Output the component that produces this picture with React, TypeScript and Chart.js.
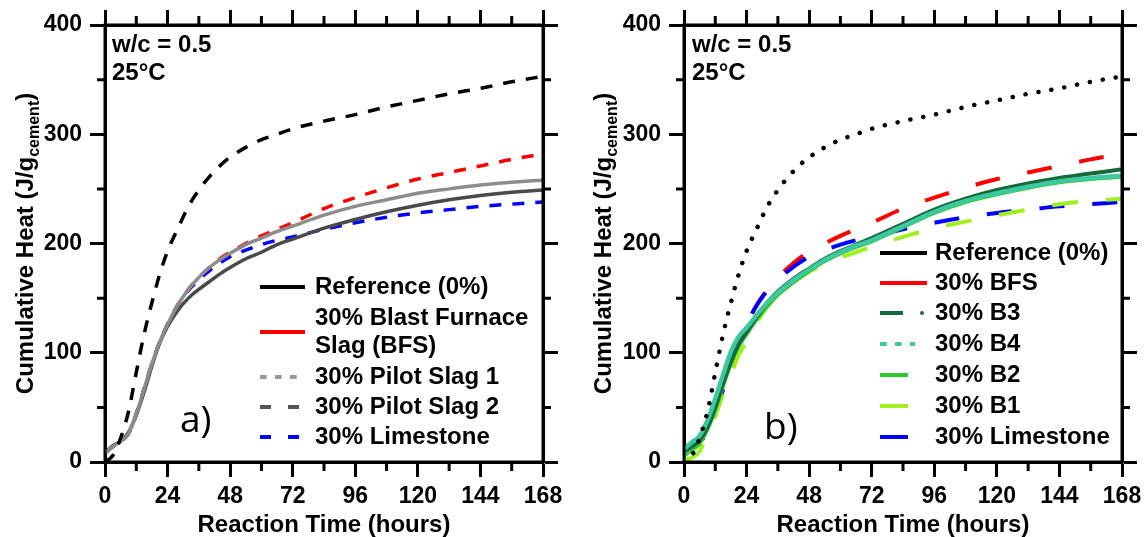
import React, { useEffect, useRef } from 'react';
import { Chart, registerables } from 'chart.js';
Chart.register(...registerables);

const FONT = '"Liberation Sans", Arial, Helvetica, sans-serif';

// Reaction time (hours)
const hours = [0, 3, 6, 9, 12, 15, 18, 21, 24, 28, 32, 36, 40, 44, 48, 54, 60, 66, 72, 84, 96, 108, 120, 132, 144, 156, 168];

// Cumulative heat (J/g cement)
const reference = [0, 6, 22, 46, 82, 117, 146, 172, 193, 214, 234, 249, 261, 271, 279, 288, 295, 300, 305, 312, 318, 325, 331, 337, 342, 348, 353];
const bfs = [8, 14, 19, 26, 44, 67, 90, 110, 126, 144, 158, 169, 178, 186, 192, 200, 207, 213, 219, 232, 242, 251, 259, 265, 271, 277, 282];
const pilotSlag1 = [8, 14, 19, 26, 44, 67, 90, 110, 126, 144, 158, 169, 178, 185, 191, 199, 205, 211, 216, 226, 234, 240, 246, 250, 253.5, 256, 258];
const pilotSlag2 = [8, 15, 19, 27, 43, 64, 88, 109, 124, 139, 150, 158, 165, 172, 178, 186, 192, 199, 204, 214, 222, 229, 235, 240, 244, 247, 249];
const limestone = [8, 14, 19, 26, 44, 67, 90, 110, 126, 144, 157, 167, 175, 182, 188, 194, 199, 203, 206, 213, 219, 224, 228, 231, 234, 236, 238];
const b3 = [10, 14, 20, 32, 50, 72, 92, 108, 119, 133, 146, 156, 164, 171, 177, 186, 193, 199, 205, 218, 231, 241, 249, 255, 260, 264, 268];
const b4 = [12, 18, 24, 38, 58, 80, 101, 115, 123, 135, 146, 155, 163, 170, 176, 185, 192, 198, 203, 216, 229, 239, 246, 252, 257, 260, 262];
const b2 = [6, 11, 17, 30, 48, 70, 90, 106, 117, 131, 143, 153, 161, 168, 175, 184, 191, 197, 202, 215, 228, 238, 245, 251, 256, 259, 261];
const b1 = [2, 4, 10, 26, 42, 62, 80, 98, 110, 128, 142, 153, 161, 168, 174, 181, 187, 192, 197, 206, 214, 220, 226, 231, 236, 239, 241];

const xTickValues = [0, 24, 48, 72, 96, 120, 144, 168];
const xMinorTicks = [12, 36, 60, 84, 108, 132, 156];
const yTickValues = [0, 100, 200, 300, 400];
const yMinorTicks = [50, 150, 250, 350];

const legendA = ['Reference (0%)', '30% Blast Furnace|Slag (BFS)', '30% Pilot Slag 1', '30% Pilot Slag 2', '30% Limestone'];
const legendB = ['Reference (0%)', '30% BFS', '30% B3', '30% B4', '30% B2', '30% B1', '30% Limestone'];

const pts = (ys: number[]) => hours.map((h, i) => ({ x: h, y: ys[i] }));

const ds = (label: string, ys: number[], color: string, width: number, dash: number[] = [], cap: CanvasLineCap = 'butt') => ({
  label,
  data: pts(ys),
  borderColor: color,
  backgroundColor: color,
  borderWidth: width,
  borderDash: dash,
  borderCapStyle: cap,
  fill: false,
  pointRadius: 0,
  cubicInterpolationMode: 'monotone' as const,
  xAxisID: 'x',
  yAxisID: 'y',
});

type LegendRow = { text: string[]; ys: number[]; lineY: number; color: string; dash: number[]; x1: number; cap?: CanvasLineCap; dot?: number };

type Panel = {
  left: number;
  right: number;
  titleX: number;
  annX: number;
  label: string;
  labelX: number;
  labelY: number;
  legendLineX: number;
  legendTextX: number;
  legend: LegendRow[];
};

const makePlugin = (p: Panel) => ({
  id: 'decor',
  afterDraw(chart: any) {
    const ctx: CanvasRenderingContext2D = chart.ctx;
    const ca = chart.chartArea;
    const xs = chart.scales.x;
    const ys = chart.scales.y;
    ctx.save();
    ctx.strokeStyle = '#000';
    ctx.lineWidth = 3;
    ctx.setLineDash([]);
    ctx.lineCap = 'butt';
    // frame
    ctx.strokeRect(ca.left, ca.top, ca.right - ca.left, ca.bottom - ca.top);
    // minor ticks
    ctx.beginPath();
    xMinorTicks.forEach((v) => {
      const px = xs.getPixelForValue(v);
      ctx.moveTo(px, ca.bottom); ctx.lineTo(px, ca.bottom + 9);
      ctx.moveTo(px, ca.top); ctx.lineTo(px, ca.top - 9);
    });
    yMinorTicks.forEach((v) => {
      const py = ys.getPixelForValue(v);
      ctx.moveTo(ca.left, py); ctx.lineTo(ca.left - 8, py);
      ctx.moveTo(ca.right, py); ctx.lineTo(ca.right + 8, py);
    });
    ctx.stroke();

    ctx.fillStyle = '#000';
    // x title
    ctx.font = `bold 24px ${FONT}`;
    ctx.textAlign = 'center';
    ctx.textBaseline = 'alphabetic';
    ctx.fillText('Reaction Time (hours)', (ca.left + ca.right) / 2, 532);

    // y title with subscript
    ctx.save();
    ctx.translate(p.titleX, (ca.top + ca.bottom) / 2);
    ctx.rotate(-Math.PI / 2);
    ctx.textAlign = 'left';
    const main = 'Cumulative Heat (J/g';
    const sub = 'cement';
    const close = ')';
    ctx.font = `bold 24px ${FONT}`;
    const wMain = ctx.measureText(main).width;
    const wClose = ctx.measureText(close).width;
    ctx.font = `bold 16px ${FONT}`;
    const wSub = ctx.measureText(sub).width;
    let x0 = -(wMain + wSub + wClose) / 2;
    ctx.font = `bold 24px ${FONT}`;
    ctx.fillText(main, x0, 0);
    x0 += wMain;
    ctx.font = `bold 16px ${FONT}`;
    ctx.fillText(sub, x0, 6);
    x0 += wSub;
    ctx.font = `bold 24px ${FONT}`;
    ctx.fillText(close, x0, 0);
    ctx.restore();

    // annotation
    ctx.font = `bold 24px ${FONT}`;
    ctx.textAlign = 'left';
    ctx.fillText('w/c = 0.5', p.annX, 52);
    ctx.fillText('25°C', p.annX, 80);

    // panel label
    ctx.font = `37px "Open Sans", ${FONT}`;
    ctx.fillText(p.label, p.labelX, p.labelY);

    // legend
    p.legend.forEach((r) => {
      ctx.strokeStyle = r.color;
      ctx.lineWidth = 4;
      ctx.lineCap = r.cap || 'butt';
      ctx.setLineDash(r.dash);
      ctx.beginPath();
      ctx.moveTo(p.legendLineX, r.lineY);
      ctx.lineTo(r.x1, r.lineY);
      ctx.stroke();
      ctx.setLineDash([]);
      if (r.dot !== undefined) {
        ctx.fillStyle = r.color;
        ctx.beginPath();
        ctx.arc(r.dot, r.lineY, 2, 0, Math.PI * 2);
        ctx.fill();
      }
      ctx.fillStyle = '#000';
      ctx.font = `bold 24px ${FONT}`;
      ctx.textBaseline = 'middle';
      r.text.forEach((t, i) => ctx.fillText(t, p.legendTextX, r.ys[i]));
      ctx.textBaseline = 'alphabetic';
    });
    ctx.restore();
  },
});

const gridOpts = { drawOnChartArea: false, drawTicks: true, tickLength: 15, tickWidth: 3, tickColor: '#000' };
const borderOpts = { display: true, width: 3, color: '#000' };
const tickFont = { family: FONT, size: 23, weight: 'bold' as const };

const makeConfig = (datasets: any[], p: Panel): any => ({
  type: 'line',
  data: { datasets },
  options: {
    responsive: false,
    animation: false,
    layout: { padding: 0 },
    plugins: { legend: { display: false }, tooltip: { enabled: false }, title: { display: false } },
    scales: {
      x: {
        type: 'linear', position: 'bottom', min: 0, max: 168,
        afterBuildTicks: (s: any) => { s.ticks = xTickValues.map((v) => ({ value: v })); },
        afterFit: (s: any) => { s.height = 75; },
        ticks: { font: tickFont, color: '#000', padding: 6, maxRotation: 0, autoSkip: false, callback: (v: any) => String(v) },
        grid: gridOpts, border: borderOpts,
      },
      xTop: {
        type: 'linear', position: 'top', min: 0, max: 168,
        afterBuildTicks: (s: any) => { s.ticks = xTickValues.map((v) => ({ value: v })); },
        afterFit: (s: any) => { s.height = 25; },
        ticks: { display: false },
        grid: gridOpts, border: borderOpts,
      },
      y: {
        type: 'linear', position: 'left', min: 0, max: 400,
        afterBuildTicks: (s: any) => { s.ticks = yTickValues.map((v) => ({ value: v })); },
        afterFit: (s: any) => { s.width = p.left; },
        ticks: { font: tickFont, color: '#000', padding: 8, callback: (v: any) => String(v) },
        grid: gridOpts, border: borderOpts,
      },
      yRight: {
        type: 'linear', position: 'right', min: 0, max: 400,
        afterBuildTicks: (s: any) => { s.ticks = yTickValues.map((v) => ({ value: v })); },
        afterFit: (s: any) => { s.width = 574 - p.right; },
        ticks: { display: false },
        grid: gridOpts, border: borderOpts,
      },
    },
  },
  plugins: [makePlugin(p)],
});

const panelA: Panel = {
  left: 105, right: 543, titleX: 33, annX: 112, label: 'a)', labelX: 180, labelY: 432,
  legendLineX: 260, legendTextX: 315,
  legend: [
    { text: [legendA[0]], ys: [287], lineY: 287, color: '#000', dash: [], x1: 305 },
    { text: legendA[1].split('|'), ys: [318, 346], lineY: 332, color: '#ff0000', dash: [], x1: 305 },
    { text: [legendA[2]], ys: [377], lineY: 377, color: '#9a9a9a', dash: [6.7, 8.3], x1: 300 },
    { text: [legendA[3]], ys: [407], lineY: 407, color: '#555555', dash: [11, 17], x1: 305 },
    { text: [legendA[4]], ys: [437], lineY: 437, color: '#0000ff', dash: [11, 17], x1: 305 },
  ],
};

const panelB: Panel = {
  left: 110, right: 548, titleX: 37, annX: 118, label: 'b)', labelX: 190, labelY: 439,
  legendLineX: 306, legendTextX: 361,
  legend: [
    { text: [legendB[0]], ys: [253], lineY: 253, color: '#000', dash: [], x1: 353 },
    { text: [legendB[1]], ys: [283], lineY: 283, color: '#ff0000', dash: [], x1: 353 },
    { text: [legendB[2]], ys: [313], lineY: 313, color: '#17693a', dash: [], x1: 329, dot: 348 },
    { text: [legendB[3]], ys: [344], lineY: 344, color: '#3cc8a0', dash: [6.7, 8.3], x1: 341 },
    { text: [legendB[4]], ys: [375], lineY: 375, color: '#33c833', dash: [], x1: 334 },
    { text: [legendB[5]], ys: [406], lineY: 406, color: '#a0f020', dash: [], x1: 334 },
    { text: [legendB[6]], ys: [437], lineY: 437, color: '#0000ff', dash: [], x1: 334 },
  ],
};

const datasetsA = () => [
  ds(legendA[0], reference, '#000000', 3.5, [12, 11]),
  ds(legendA[2], pilotSlag1, '#8c8c8c', 3.5),
  ds(legendA[3], pilotSlag2, '#4a4a4a', 3.5),
  ds('30% Blast Furnace Slag (BFS)', bfs, '#ff0000', 3.5, [12, 11]),
  ds(legendA[4], limestone, '#0000ff', 3.5, [12, 11]),
];

const datasetsB = () => [
  ds(legendB[0], reference, '#000000', 4.5, [0.1, 13], 'round'),
  ds(legendB[3], b4, '#3cc8a0', 4.5),
  ds(legendB[2], b3, '#17693a', 4),
  ds(legendB[4], b2, '#33c833', 4),
  ds(legendB[5], b1, '#a0f020', 4, [26, 28]),
  ds(legendB[6], limestone, '#0000ff', 4, [25, 28]),
  ds(legendB[1], bfs, '#ff0000', 4, [25, 28]),
];

function ChartPanel({ panel, makeData }: { panel: Panel; makeData: () => any[] }) {
  const ref = useRef<HTMLCanvasElement | null>(null);
  useEffect(() => {
    if (!ref.current) return;
    const chart = new Chart(ref.current, makeConfig(makeData(), panel));
    return () => chart.destroy();
  }, []);
  return <canvas ref={ref} width={574} height={537} style={{ display: 'block', width: 574, height: 537 }} />;
}

export default function App() {
  return (
    <div style={{ position: 'absolute', left: 0, top: 0, width: 1148, height: 537, display: 'flex', background: '#fff' }}>
      <ChartPanel panel={panelA} makeData={datasetsA} />
      <ChartPanel panel={panelB} makeData={datasetsB} />
    </div>
  );
}
